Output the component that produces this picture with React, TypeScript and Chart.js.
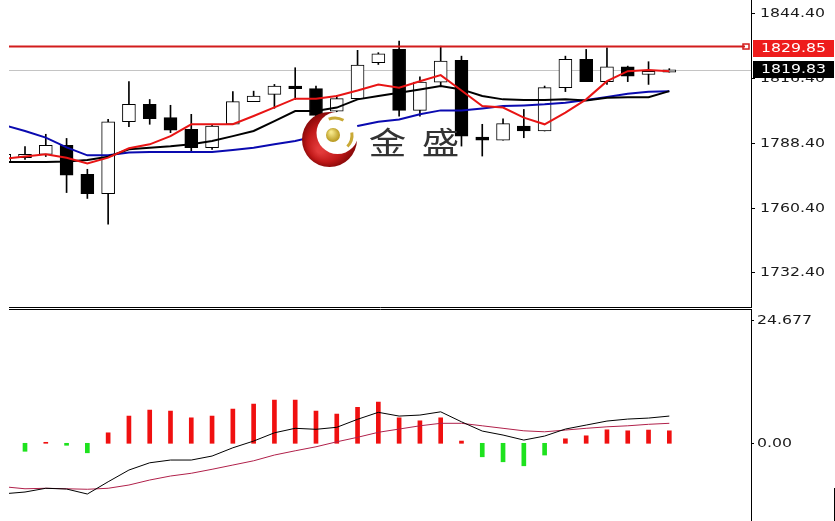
import React, { useEffect, useRef } from "react";
import { Chart, registerables } from "chart.js";

Chart.register(...registerables);

// ---------- data ----------
const INDEX = [-1, 0, 1, 2, 3, 4, 5, 6, 7, 8, 9, 10, 11, 12, 13, 14, 15, 16, 17, 18, 19, 20, 21, 22, 23, 24, 25, 26, 27, 28, 29, 30, 31];
const OPEN = [1780.0, 1781.9, 1783.35, 1787.2, 1774.7, 1766.4, 1797.4, 1804.9, 1799.2, 1794.1, 1786.2, 1796.3, 1806.05, 1809.2, 1812.8, 1811.7, 1802.0, 1807.35, 1822.85, 1828.6, 1802.3, 1814.5, 1823.85, 1790.8, 1789.4, 1795.5, 1793.4, 1812.1, 1824.3, 1814.7, 1821.1, 1817.8, 1818.8];
const HIGH = [1784.0, 1786.7, 1792.0, 1790.2, 1776.9, 1798.4, 1814.7, 1807.0, 1804.5, 1800.6, 1795.8, 1810.4, 1810.6, 1813.5, 1820.7, 1812.8, 1808.8, 1828.2, 1827.2, 1832.2, 1816.8, 1830.0, 1825.7, 1796.3, 1798.7, 1802.7, 1812.8, 1825.7, 1828.6, 1829.3, 1821.4, 1823.3, 1820.3];
const LOW = [1779.5, 1781.2, 1782.4, 1766.85, 1764.3, 1753.2, 1795.3, 1796.3, 1792.7, 1784.8, 1785.5, 1796.3, 1806.05, 1803.2, 1807.0, 1799.0, 1797.7, 1807.35, 1822.1, 1799.85, 1799.85, 1812.8, 1786.9, 1782.6, 1789.4, 1790.5, 1793.4, 1810.4, 1814.7, 1813.5, 1814.7, 1813.5, 1818.8];
const CLOSE = [1783.3, 1783.35, 1787.2, 1774.4, 1766.4, 1797.4, 1804.9, 1798.7, 1793.8, 1786.2, 1795.5, 1806.1, 1808.5, 1812.8, 1811.7, 1800.15, 1807.35, 1821.8, 1826.7, 1802.3, 1814.5, 1823.55, 1791.2, 1789.4, 1796.6, 1793.4, 1812.1, 1824.3, 1814.7, 1821.1, 1817.1, 1819.2, 1819.83];

const MA_RED = [1781.4, 1782.4, 1783.35, 1781.9, 1779.35, 1781.9, 1785.95, 1787.65, 1791.2, 1796.3, 1796.3, 1796.3, 1799.9, 1803.6, 1807.35, 1807.35, 1808.55, 1810.9, 1813.5, 1812.1, 1814.9, 1817.5, 1810.9, 1804.15, 1803.5, 1799.15, 1796.3, 1801.3, 1807.05, 1814.9, 1819.2, 1819.7, 1819.2];
const MA_BLACK = [1780.0, 1780.0, 1780.0, 1780.3, 1780.9, 1782.3, 1785.5, 1786.2, 1786.8, 1787.65, 1789.1, 1791.2, 1793.4, 1797.7, 1802.0, 1802.0, 1803.5, 1807.05, 1808.5, 1809.9, 1811.35, 1812.8, 1811.35, 1808.5, 1807.05, 1806.75, 1806.75, 1807.05, 1806.6, 1807.8, 1808.0, 1808.0, 1810.6];
const MA_BLUE = [1795.9, 1793.4, 1790.55, 1786.35, 1782.9, 1782.9, 1784.1, 1784.35, 1784.35, 1784.35, 1784.35, 1785.2, 1786.2, 1787.65, 1789.1, 1791.2, 1792.7, 1795.55, 1797.4, 1798.4, 1800.6, 1802.3, 1802.3, 1803.15, 1804.15, 1804.45, 1804.9, 1805.6, 1806.75, 1808.05, 1809.5, 1810.35, 1810.6];

const HIST_INDEX = [0, 1, 2, 3, 4, 5, 6, 7, 8, 9, 10, 11, 12, 13, 14, 15, 16, 17, 18, 19, 20, 21, 22, 23, 24, 25, 26, 27, 28, 29, 30, 31];
const HIST = [-1.6, 0.2, -0.4, -1.9, 2.1, 5.45, 6.65, 6.45, 5.1, 5.45, 6.85, 7.85, 8.65, 8.65, 6.45, 5.85, 7.2, 8.25, 5.1, 4.5, 5.1, 0.45, -2.7, -3.7, -4.5, -2.35, 0.9, 1.5, 2.7, 2.5, 2.65, 2.5];
const DIF = [-10.1, -9.75, -9.0, -9.15, -10.15, -7.7, -5.35, -3.9, -3.35, -3.35, -2.55, -0.9, 0.45, 2.1, 3.0, 2.8, 3.2, 4.8, 6.2, 5.45, 5.65, 6.3, 4.3, 2.45, 1.65, 0.65, 1.45, 2.85, 3.65, 4.45, 4.85, 5.05, 5.45];
const DEA = [-8.7, -9.1, -9.0, -9.1, -9.2, -9.0, -8.35, -7.35, -6.55, -6.0, -5.2, -4.35, -3.5, -2.35, -1.5, -0.7, 0.3, 1.2, 2.2, 2.85, 3.5, 4.0, 4.0, 3.5, 3.0, 2.5, 2.3, 2.65, 3.0, 3.3, 3.5, 3.8, 4.0];

const MAIN_TICKS = [1844.4, 1816.4, 1788.4, 1760.4, 1732.4];
const MACD_TICKS = [24.677, 0];
const MACD_TICK_LABELS = ["24.677", "0.00"];
const MARK_LEVEL = 1829.85;
const LAST_PRICE = 1819.83;
const WATERMARK = ["金", "盛"];

// ---------- layout ----------
const W = 835;
const TOP_H = 308;
const BOT_TOP = 309;
const BOT_H = 212;
const PAD_L = 9;
const PAD_R = 84;
const X_MIN = -0.77;
const X_MAX = 34.93;
const MAIN_MIN = 1717.48;
const MAIN_MAX = 1849.92;
const MACD_MIN = -15.55;
const MACD_MAX = 26.876;
const FONT = '13px "DejaVu Sans", Verdana, sans-serif';
const HSCALE = 1.21;

function stretchText(ctx: CanvasRenderingContext2D, text: string, x: number, y: number, color: string, font = FONT, align: CanvasTextAlign = "left", sx = HSCALE) {
  ctx.save();
  ctx.translate(x, y);
  ctx.scale(sx, 1);
  ctx.font = font;
  ctx.fillStyle = color;
  ctx.textAlign = align;
  ctx.textBaseline = "middle";
  ctx.fillText(text, 0, 0);
  ctx.restore();
}

function drawLogo(ctx: CanvasRenderingContext2D) {
  ctx.save();
  const g = ctx.createRadialGradient(320, 150, 3, 329, 140, 28);
  g.addColorStop(0, "#e23a3a");
  g.addColorStop(0.6, "#c01818");
  g.addColorStop(1, "#860808");
  ctx.beginPath();
  ctx.arc(329.5, 139.5, 27.5, 0, Math.PI * 2);
  ctx.fillStyle = g;
  ctx.fill();
  ctx.beginPath();
  ctx.arc(337.5, 133, 21, 0, Math.PI * 2);
  ctx.fillStyle = "#ffffff";
  ctx.fill();
  const gg = ctx.createRadialGradient(331, 132, 1, 333, 135, 8);
  gg.addColorStop(0, "#f6e88a");
  gg.addColorStop(1, "#b08e10");
  ctx.beginPath();
  ctx.arc(333, 135, 7, 0, Math.PI * 2);
  ctx.fillStyle = gg;
  ctx.fill();
  ctx.strokeStyle = "#c9a936";
  ctx.lineWidth = 3;
  ctx.beginPath();
  ctx.arc(335, 135, 17, -1.95, -1.05);
  ctx.stroke();
  ctx.beginPath();
  ctx.arc(335, 135, 17, -0.15, 0.75);
  ctx.stroke();
  ctx.restore();
  // text
  const font = '31px "Noto Sans CJK SC", sans-serif';
  stretchText(ctx, WATERMARK[0], 387.5, 142.5, "#333333", font, "center");
  stretchText(ctx, WATERMARK[1], 440.5, 142.5, "#333333", font, "center");
}

const topOverlay = {
  id: "topOverlay",
  beforeDatasetsDraw(chart: any) {
    const ctx: CanvasRenderingContext2D = chart.ctx;
    const y = chart.scales.y;
    const area = chart.chartArea;
    ctx.save();
    const gy = Math.round(y.getPixelForValue(LAST_PRICE)) + 0.5;
    ctx.strokeStyle = "#c4c4c4";
    ctx.lineWidth = 1;
    ctx.beginPath();
    ctx.moveTo(area.left, gy);
    ctx.lineTo(area.right, gy);
    ctx.stroke();
    ctx.restore();
  },
  afterDatasetsDraw(chart: any) {
    const ctx: CanvasRenderingContext2D = chart.ctx;
    const y = chart.scales.y;
    const area = chart.chartArea;
    ctx.save();
    const ry = y.getPixelForValue(MARK_LEVEL);
    ctx.strokeStyle = "#d21c1c";
    ctx.lineWidth = 2;
    ctx.beginPath();
    ctx.moveTo(area.left, ry);
    ctx.lineTo(area.right - 6, ry);
    ctx.stroke();
    ctx.lineWidth = 1.5;
    ctx.strokeRect(area.right - 8, ry - 2.5, 6, 5);
    ctx.restore();
    drawLogo(ctx);
  },
  afterDraw(chart: any) {
    const ctx: CanvasRenderingContext2D = chart.ctx;
    const y = chart.scales.y;
    const area = chart.chartArea;
    ctx.save();
    ctx.strokeStyle = "#000";
    ctx.lineWidth = 1;
    ctx.beginPath();
    ctx.moveTo(area.right + 0.5, 0);
    ctx.lineTo(area.right + 0.5, area.bottom + 1);
    ctx.moveTo(area.left, area.bottom + 0.5);
    ctx.lineTo(area.right + 1, area.bottom + 0.5);
    ctx.stroke();
    MAIN_TICKS.forEach((t) => {
      const py = Math.round(y.getPixelForValue(t)) + 0.5;
      ctx.beginPath();
      ctx.moveTo(area.right, py);
      ctx.lineTo(area.right + 4, py);
      ctx.stroke();
      stretchText(ctx, t.toFixed(2), area.right + 9, py, "#1a1a1a");
    });
    const ry = y.getPixelForValue(MARK_LEVEL);
    ctx.fillStyle = "#ee1c1c";
    ctx.fillRect(area.right + 2, Math.round(ry - 6.5), W - area.right - 3, 17);
    stretchText(ctx, MARK_LEVEL.toFixed(2), area.right + 10, Math.round(ry - 6.5) + 8.5, "#ffffff");
    const ly = y.getPixelForValue(LAST_PRICE);
    ctx.fillStyle = "#000000";
    ctx.fillRect(area.right + 2, Math.round(ly - 9), W - area.right - 3, 17);
    stretchText(ctx, LAST_PRICE.toFixed(2), area.right + 10, Math.round(ly - 9) + 8.5, "#ffffff");
    ctx.restore();
  },
};

const botOverlay = {
  id: "botOverlay",
  afterDraw(chart: any) {
    const ctx: CanvasRenderingContext2D = chart.ctx;
    const y = chart.scales.y;
    const area = chart.chartArea;
    ctx.save();
    ctx.strokeStyle = "#000";
    ctx.lineWidth = 1;
    ctx.beginPath();
    ctx.moveTo(area.left, 0.5);
    ctx.lineTo(area.right + 1, 0.5);
    ctx.moveTo(area.right + 0.5, 0);
    ctx.lineTo(area.right + 0.5, BOT_H);
    ctx.moveTo(W - 0.5, BOT_H - 33);
    ctx.lineTo(W - 0.5, BOT_H);
    ctx.stroke();
    MACD_TICKS.forEach((t, k) => {
      const py = Math.round(y.getPixelForValue(t)) + 0.5;
      ctx.beginPath();
      ctx.moveTo(area.right, py);
      ctx.lineTo(area.right + 3, py);
      ctx.stroke();
      stretchText(ctx, MACD_TICK_LABELS[k], area.right + 6, py, "#1a1a1a");
    });
    ctx.restore();
  },
};

export default function App() {
  const topRef = useRef<HTMLCanvasElement>(null);
  const botRef = useRef<HTMLCanvasElement>(null);

  useEffect(() => {
    const bodies = INDEX.map((x, k) => ({ x, y: [OPEN[k], CLOSE[k]] }));
    const wicks = INDEX.map((x, k) => ({ x, y: [LOW[k], HIGH[k]] }));
    const bodyColors = INDEX.map((_, k) => (CLOSE[k] >= OPEN[k] ? "#ffffff" : "#000000"));
    const line = (vals: number[], color: string, order: number, width = 2) => ({
      type: "line" as const,
      data: INDEX.map((x, k) => ({ x, y: vals[k] })),
      borderColor: color,
      borderWidth: width,
      pointRadius: 0,
      tension: 0,
      fill: false,
      order,
    });

    const top = new Chart(topRef.current!, {
      type: "bar",
      data: {
        datasets: [
          {
            type: "bar",
            data: wicks as any,
            backgroundColor: "#000000",
            borderWidth: 0,
            barThickness: 1,
            grouped: false,
            order: 6,
          },
          {
            type: "bar",
            data: bodies as any,
            backgroundColor: bodyColors,
            borderColor: "#000000",
            borderWidth: 1,
            borderSkipped: false,
            barThickness: 13,
            grouped: false,
            order: 5,
          },
          line(MA_BLUE, "#0a0ab0", 3) as any,
          line(MA_BLACK, "#000000", 2) as any,
          line(MA_RED, "#e81414", 1) as any,
        ],
      },
      options: {
        responsive: false,
        animation: false,
        events: [],
        layout: { padding: { left: PAD_L, right: PAD_R, top: 0, bottom: 1 } },
        plugins: { legend: { display: false }, tooltip: { enabled: false } },
        scales: {
          x: { type: "linear", min: X_MIN, max: X_MAX, display: false, offset: false },
          y: { type: "linear", min: MAIN_MIN, max: MAIN_MAX, display: false },
        },
      },
      plugins: [topOverlay],
    });

    const bot = new Chart(botRef.current!, {
      type: "bar",
      data: {
        datasets: [
          {
            type: "bar",
            data: HIST_INDEX.map((x, k) => ({ x, y: HIST[k] })) as any,
            backgroundColor: HIST.map((v) => (v >= 0 ? "#f01010" : "#1ee21e")),
            borderWidth: 0,
            barThickness: 4,
            grouped: false,
            order: 3,
          },
          line(DEA, "#b0204a", 2, 1) as any,
          line(DIF, "#000000", 1, 1) as any,
        ],
      },
      options: {
        responsive: false,
        animation: false,
        events: [],
        layout: { padding: { left: PAD_L, right: PAD_R, top: 0, bottom: 0 } },
        plugins: { legend: { display: false }, tooltip: { enabled: false } },
        scales: {
          x: { type: "linear", min: X_MIN, max: X_MAX, display: false, offset: false },
          y: { type: "linear", min: MACD_MIN, max: MACD_MAX, display: false },
        },
      },
      plugins: [botOverlay],
    });

    return () => {
      top.destroy();
      bot.destroy();
    };
  }, []);

  return (
    <div style={{ position: "fixed", left: 0, top: 0, width: W, height: 521, background: "#ffffff", overflow: "hidden" }}>
      <canvas ref={topRef} width={W} height={TOP_H} style={{ position: "absolute", left: 0, top: 0, width: W, height: TOP_H }} />
      <canvas ref={botRef} width={W} height={BOT_H} style={{ position: "absolute", left: 0, top: BOT_TOP, width: W, height: BOT_H }} />
    </div>
  );
}
